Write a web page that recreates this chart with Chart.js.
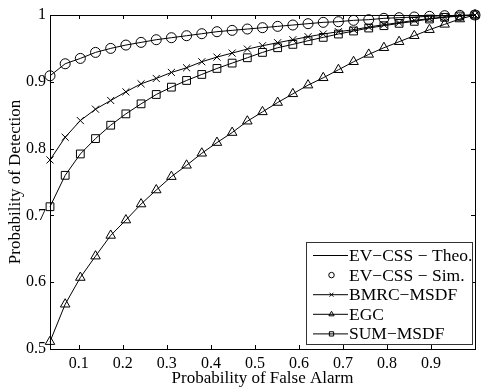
<!DOCTYPE html>
<html>
<head>
<meta charset="utf-8">
<script src="https://cdn.jsdelivr.net/npm/chart.js@4/dist/chart.umd.min.js"></script>
<style>
  html, body { margin: 0; padding: 0; background: #fff; }
  #wrap { width: 483px; height: 390px; }
</style>
</head>
<body>
<div id="wrap"><canvas id="chart"></canvas></div>
<script>
const pfa = [
  0.0345, 0.0690, 0.1034, 0.1379, 0.1724, 0.2069, 0.2414, 0.2759, 0.3103, 0.3448,
  0.3793, 0.4138, 0.4483, 0.4828, 0.5172, 0.5517, 0.5862, 0.6207, 0.6552, 0.6897,
  0.7241, 0.7586, 0.7931, 0.8276, 0.8621, 0.8966, 0.9310, 0.9655, 1.0
];

const evTheo = [
  0.909, 0.927, 0.935, 0.944, 0.950, 0.955, 0.959, 0.963, 0.966, 0.969,
  0.972, 0.975, 0.977, 0.979, 0.981, 0.983, 0.985, 0.987, 0.989, 0.990,
  0.992, 0.993, 0.995, 0.996, 0.997, 0.998, 0.999, 0.9995, 1.0
];

const evSim = [
  0.909, 0.927, 0.935, 0.944, 0.950, 0.955, 0.959, 0.963, 0.966, 0.969,
  0.972, 0.975, 0.977, 0.979, 0.981, 0.983, 0.985, 0.987, 0.989, 0.990,
  0.992, 0.993, 0.995, 0.996, 0.997, 0.998, 0.999, 0.9995, 1.0
];

const bmrc = [
  0.783, 0.817, 0.842, 0.859, 0.872, 0.885, 0.897, 0.905, 0.914, 0.921,
  0.930, 0.937, 0.943, 0.949, 0.954, 0.9585, 0.963, 0.9675, 0.9715, 0.975,
  0.978, 0.982, 0.9855, 0.9885, 0.992, 0.9945, 0.997, 0.999, 1.0
];

const egc = [
  0.511, 0.567, 0.607, 0.639, 0.670, 0.693, 0.717, 0.738, 0.758, 0.775,
  0.793, 0.809, 0.824, 0.841, 0.855, 0.869, 0.882, 0.895, 0.906, 0.918,
  0.930, 0.941, 0.951, 0.960, 0.969, 0.978, 0.986, 0.994, 1.0
];

const sumMsdf = [
  0.713, 0.760, 0.792, 0.815, 0.835, 0.852, 0.867, 0.881, 0.892, 0.902,
  0.911, 0.920, 0.928, 0.936, 0.944, 0.951, 0.956, 0.9615, 0.9665, 0.9715,
  0.976, 0.9805, 0.984, 0.9875, 0.9905, 0.994, 0.9965, 0.9985, 1.0
];

const xTicks = [0.1, 0.2, 0.3, 0.4, 0.5, 0.6, 0.7, 0.8, 0.9];
const yTicks = [0.5, 0.6, 0.7, 0.8, 0.9, 1];

const seriesNames = ["EV\u2212CSS \u2212 Theo.", "EV\u2212CSS \u2212 Sim.", "BMRC\u2212MSDF", "EGC", "SUM\u2212MSDF"];

const fontFamily = "'Liberation Serif', 'Times New Roman', serif";

function toPoints(values) {
  return values.map((v, i) => ({ x: pfa[i], y: v }));
}

function makeSeries(label, values, style, radius, showLine) {
  return {
    label: label,
    data: toPoints(values),
    borderColor: "#000",
    backgroundColor: "rgba(0,0,0,0)",
    borderWidth: 1,
    pointStyle: style,
    pointRadius: radius,
    pointBorderWidth: 1,
    pointBorderColor: "#000",
    pointBackgroundColor: "rgba(0,0,0,0)",
    showLine: showLine,
    tension: 0,
    clip: false
  };
}

const frame = {
  id: "frame",
  afterDatasetsDraw(chart) {
    const { ctx, chartArea: a, scales: { x, y } } = chart;
    ctx.save();
    ctx.strokeStyle = "#000";
    ctx.lineWidth = 1;
    ctx.strokeRect(Math.round(a.left) + 0.5, Math.round(a.top) + 0.5,
      Math.round(a.right - a.left), Math.round(a.bottom - a.top));
    ctx.beginPath();
    x.ticks.forEach(t => {
      const px = Math.round(x.getPixelForValue(t.value)) + 0.5;
      ctx.moveTo(px, a.bottom); ctx.lineTo(px, a.bottom - 4);
      ctx.moveTo(px, a.top); ctx.lineTo(px, a.top + 4);
    });
    y.ticks.forEach(t => {
      const py = Math.round(y.getPixelForValue(t.value)) + 0.5;
      ctx.moveTo(a.left, py); ctx.lineTo(a.left + 4, py);
      ctx.moveTo(a.right, py); ctx.lineTo(a.right - 4, py);
    });
    ctx.stroke();
    ctx.restore();
  }
};

const boxLegend = {
  id: "boxLegend",
  afterDraw(chart) {
    const ctx = chart.ctx;
    const left = 306.5, top = 242.5, width = 166, height = 102;
    ctx.save();
    ctx.fillStyle = "#fff";
    ctx.fillRect(left, top, width, height);
    ctx.strokeStyle = "#333";
    ctx.lineWidth = 1;
    ctx.strokeRect(left, top, width, height);
    ctx.textBaseline = "middle";
    chart.data.datasets.forEach((ds, i) => {
      const cy = 255.5 + i * 19.6;
      ctx.strokeStyle = "#000";
      if (ds.showLine) {
        ctx.beginPath();
        ctx.moveTo(313, cy);
        ctx.lineTo(348, cy);
        ctx.stroke();
      }
      if (ds.pointRadius > 0) {
        ctx.fillStyle = "rgba(0,0,0,0)";
        Chart.helpers.drawPoint(ctx, {
          pointStyle: ds.pointStyle,
          radius: ds.pointRadius * 0.55,
          rotation: 0,
          borderWidth: 1
        }, 331.5, cy);
      }
      ctx.fillStyle = "#000";
      ctx.font = "17.5px " + fontFamily;
      ctx.fillText(ds.label, 349, cy + 1);
    });
    ctx.restore();
  }
};

new Chart(document.getElementById("chart"), {
  type: "scatter",
  data: {
    datasets: [
      makeSeries(seriesNames[0], evTheo, "circle", 0, true),
      makeSeries(seriesNames[1], evSim, "circle", 5, false),
      makeSeries(seriesNames[2], bmrc, "crossRot", 5, true),
      makeSeries(seriesNames[3], egc, "triangle", 5.5, true),
      makeSeries(seriesNames[4], sumMsdf, "rect", 5.5, true)
    ]
  },
  options: {
    responsive: true,
    maintainAspectRatio: false,
    animation: false,
    layout: { padding: { top: 15, right: 8, left: 0, bottom: 0 } },
    plugins: {
      legend: { display: false },
      tooltip: { enabled: false }
    },
    scales: {
      x: {
        type: "linear",
        min: 0.0345,
        max: 1,
        afterBuildTicks: scale => { scale.ticks = xTicks.map(v => ({ value: v })); },
        afterFit: scale => { scale.height = 41; },
        grid: { display: false, drawTicks: false },
        border: { display: false },
        ticks: {
          color: "#000",
          padding: 5,
          maxRotation: 0,
          font: { family: fontFamily, size: 16 },
          callback: v => String(v)
        },
        title: {
          display: true,
          text: "Probability of False Alarm",
          color: "#000",
          padding: { top: 0, bottom: 1 },
          font: { family: fontFamily, size: 17 }
        }
      },
      y: {
        type: "linear",
        min: 0.5,
        max: 1,
        afterBuildTicks: scale => { scale.ticks = yTicks.map(v => ({ value: v })); },
        afterFit: scale => { scale.width = 50; },
        grid: { display: false, drawTicks: false },
        border: { display: false },
        ticks: {
          color: "#000",
          padding: 4,
          font: { family: fontFamily, size: 16 },
          callback: v => String(v)
        },
        title: {
          display: true,
          text: "Probability of Detection",
          color: "#000",
          padding: { top: 5, bottom: 0 },
          font: { family: fontFamily, size: 17 }
        }
      }
    }
  },
  plugins: [frame, boxLegend]
});
</script>
</body>
</html>
